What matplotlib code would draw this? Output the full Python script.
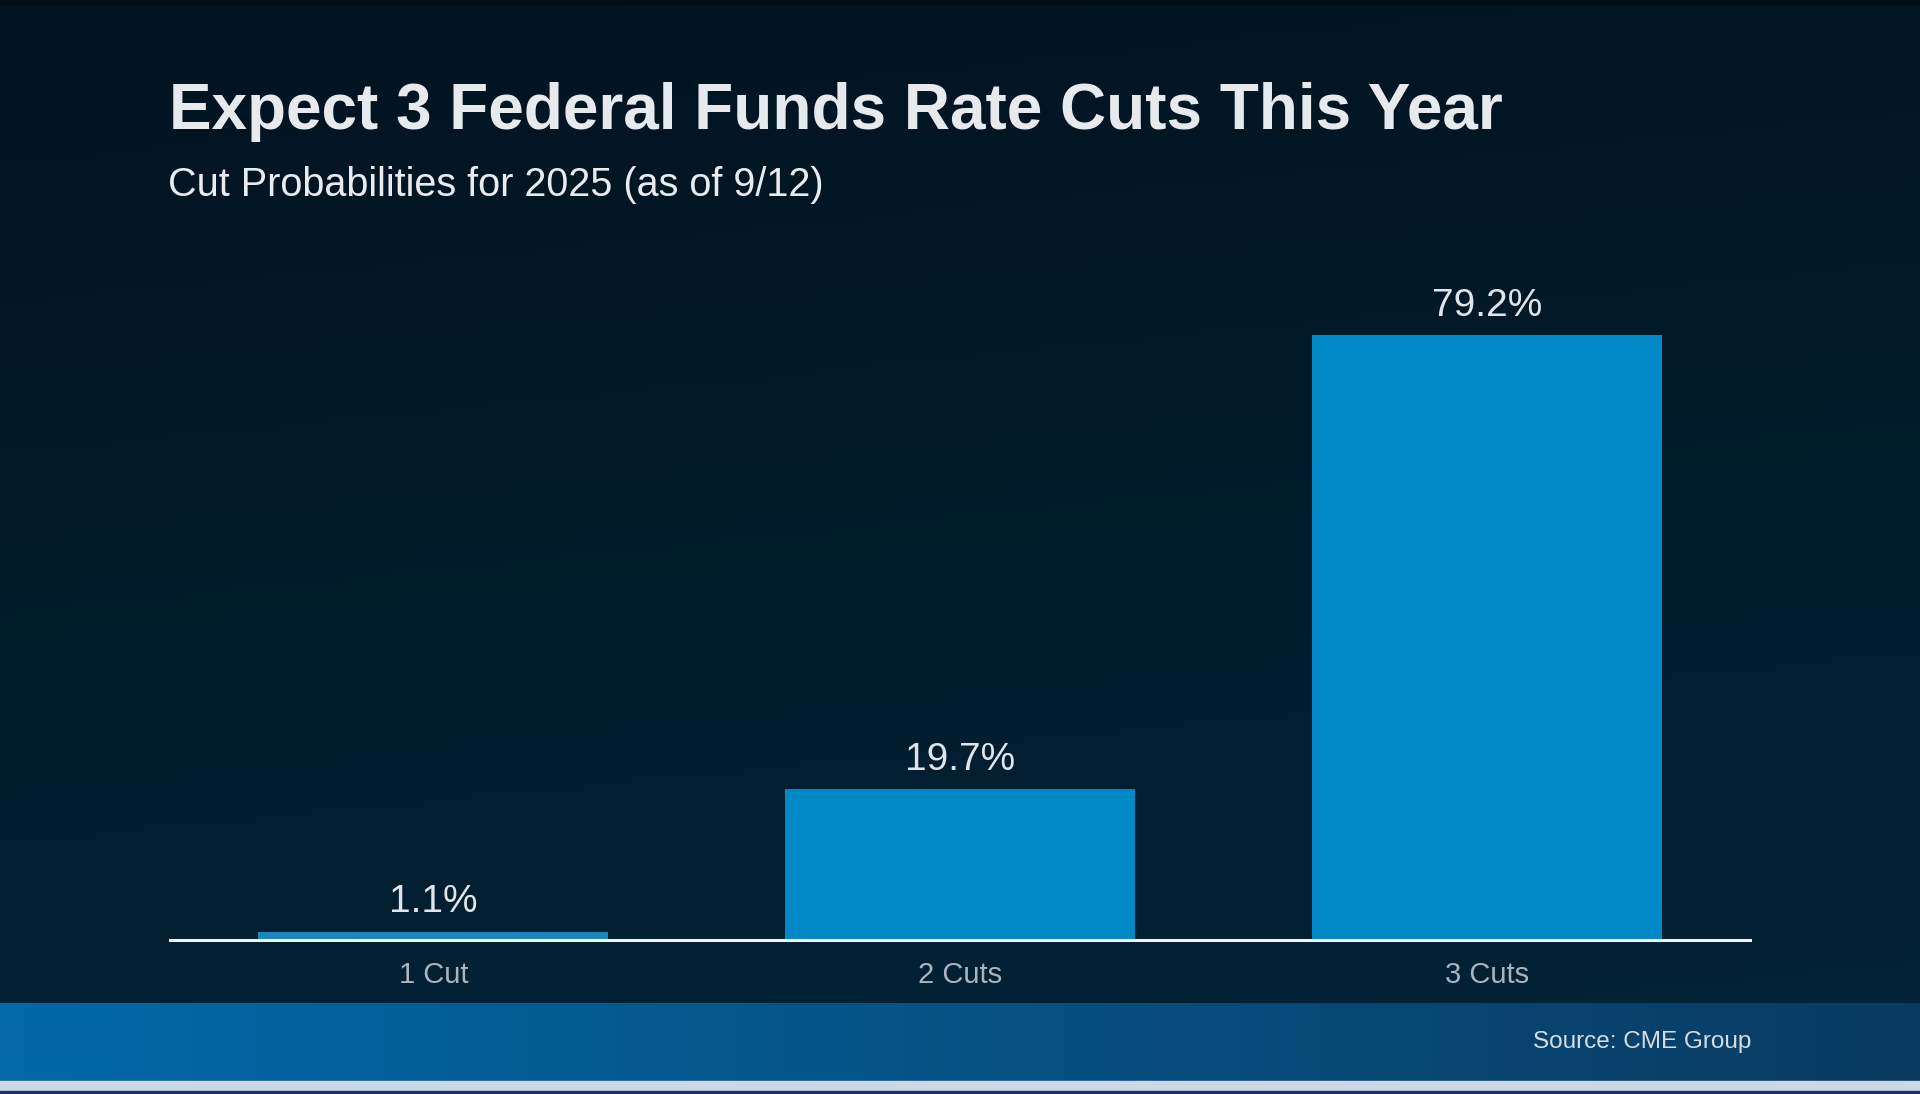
import matplotlib
matplotlib.use("Agg")
import matplotlib.pyplot as plt
import numpy as np

## Data
categories = ["1 Cut", "2 Cuts", "3 Cuts"]
probs = [1.1, 19.7, 79.2]
value_labels = ["1.1%", "19.7%", "79.2%"]

title = "Expect 3 Federal Funds Rate Cuts This Year"
subtitle = "Cut Probabilities for 2025 (as of 9/12)"
source = "Source: CME Group"

plt.rcParams['font.family'] = ['Liberation Sans', 'DejaVu Sans']

W, H = 1920, 1094
fig = plt.figure(figsize=(W / 100, H / 100), dpi=100)

## background gradient (dark navy)
bg = fig.add_axes([0, 0, 1, 1], zorder=0)
yy = np.linspace(0, 1, 200)[:, None]
xx = np.linspace(0, 1, 200)[None, :]
top = np.array([0.005, 0.075, 0.12])
bot = np.array([0.01, 0.14, 0.225])
t = (0.85 * yy + 0.15 * xx)[..., None]
img = top * (1 - t) + bot * t
bg.imshow(img, extent=[0, 1, 0, 1], aspect='auto', origin='upper')
# footer band
fx = np.linspace(0, 1, 200)[None, :, None]
left_c = np.array([0.01, 0.41, 0.66])
right_c = np.array([0.04, 0.23, 0.38])
band = left_c * (1 - fx) + right_c * fx
band = np.repeat(band, 2, axis=0)
bg.imshow(band, extent=[0, 1, 13 / H, 91 / H], aspect='auto')
bg.axhspan(3 / H, 13 / H, color='#cdd8e6')
bg.axhspan(0, 3 / H, color='#1b2f6a')
bg.axhspan(1 - 4 / H, 1, color='#020d15')
bg.set_xlim(0, 1); bg.set_ylim(0, 1)
bg.axis('off')

## bar chart
ax = fig.add_axes([170 / W, 154 / H, 1580 / W, 0.6285], zorder=1)
ax.patch.set_alpha(0)
x = np.arange(len(categories))
colors = ['#1a86bd', '#0089c6', '#0089c6']
ax.bar(x, probs, width=0.665, color=colors, zorder=2)
for xi, p, lab in zip(x, probs, value_labels):
    ax.annotate(lab, (xi, p), xytext=(0, 8), textcoords='offset points',
                ha='center', va='bottom', fontsize=28, color='#dfe5ea')

ax.set_xlim(-0.5, 2.5)
ax.set_ylim(0, 90)
ax.set_xticks(x)
ax.set_xticklabels(categories, fontsize=21, color='#a9b4be')
ax.tick_params(axis='x', length=0, pad=15)
ax.set_yticks([])
for s in ['top', 'right', 'left']:
    ax.spines[s].set_visible(False)
ax.spines['bottom'].set_color('#f2f4f6')
ax.spines['bottom'].set_linewidth(2.2)
ax.spines['bottom'].set_zorder(3)

## texts
fig.text(169 / W, 1 - 129 / H, title, fontsize=46, fontweight='bold',
         color='#e6eaed', ha='left', va='baseline', zorder=5)
fig.text(168 / W, 1 - 196 / H, subtitle, fontsize=28.5,
         color='#e8ecef', ha='left', va='baseline', zorder=5)
fig.text(1751 / W, 1 - 1042 / H, source, fontsize=17.5,
         color='#d5dde4', ha='right', va='center', zorder=5)

plt.savefig("out.png", dpi=100)
